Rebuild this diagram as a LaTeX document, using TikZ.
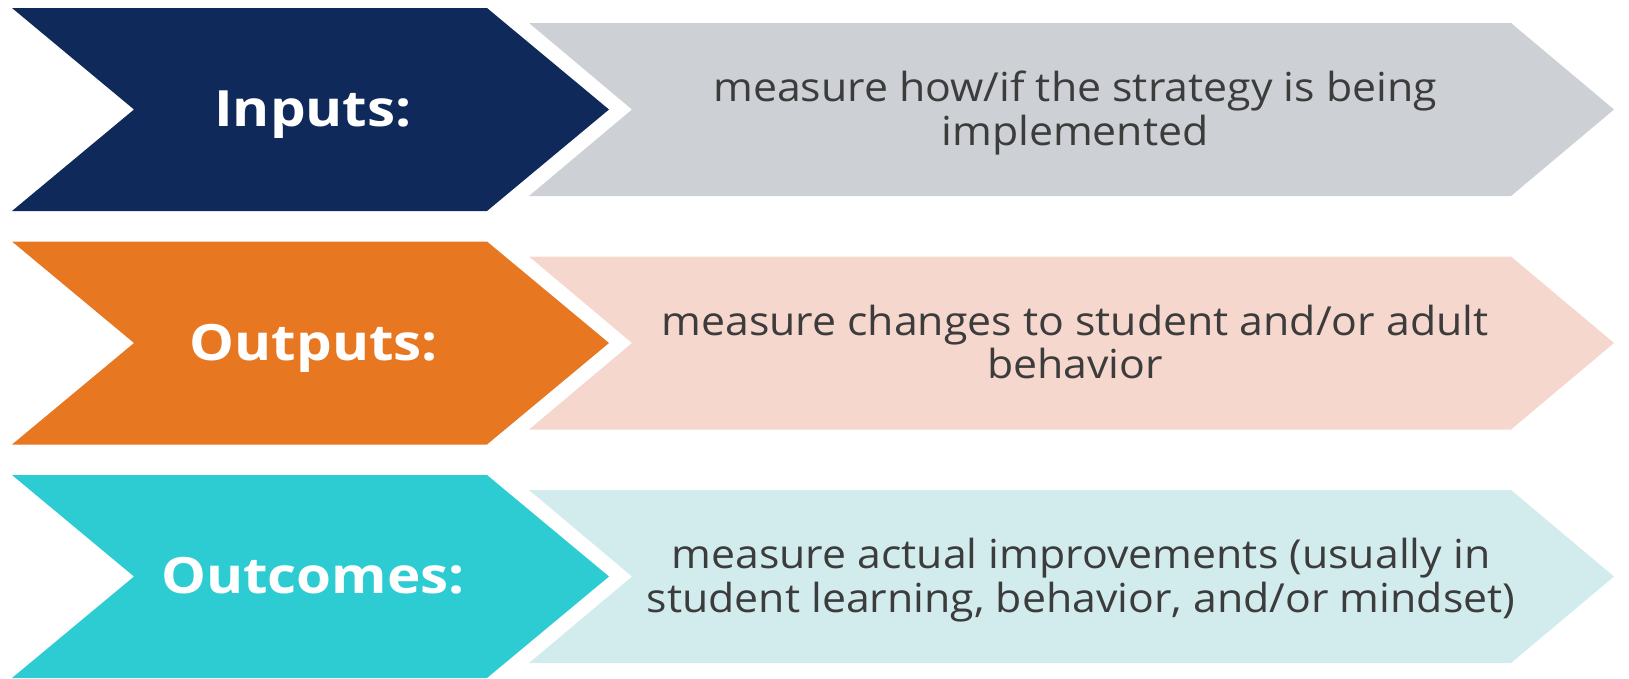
\documentclass[tikz,border=0pt]{standalone}
\usepackage{fontspec}
\setmainfont{Open Sans}[FakeStretch=1.07]
\newfontfamily\labelfont{Open Sans}[UprightFont={* Bold}, FakeStretch=1.13]
\definecolor{navy}{HTML}{0F2A5A}
\definecolor{orng}{HTML}{E87722}
\definecolor{teal}{HTML}{2DCBD2}
\definecolor{lgray}{HTML}{CDD0D4}
\definecolor{lpink}{HTML}{F6D7CD}
\definecolor{lteal}{HTML}{D2ECEE}
\definecolor{txt}{HTML}{3C3C3C}
\tikzset{
  labeltext/.style={text=white, font=\labelfont\fontsize{50}{60}\selectfont, inner sep=0pt, anchor=base},
  desctext/.style={text=txt, font=\fontsize{40}{42}\selectfont, align=center, inner sep=0pt},
}
\newcommand{\darkchev}[2]{% top y, color
  \fill[#2] (12,#1) -- (487,#1) -- (609,#1+101.5) -- (487,#1+203) -- (12,#1+203) -- (134,#1+101.5) -- cycle;}
\newcommand{\lightchev}[2]{%
  \fill[#2] (529,#1+15) -- (1511,#1+15) -- (1614,#1+101.5) -- (1511,#1+188) -- (529,#1+188) -- (632,#1+101.5) -- cycle;}
\begin{document}
\begin{tikzpicture}[x=1pt,y=-1pt]
\useasboundingbox (0,0) rectangle (1629,678);
\darkchev{8}{navy}
\lightchev{8}{lgray}
\darkchev{241.5}{orng}
\lightchev{241.5}{lpink}
\darkchev{475}{teal}
\lightchev{475}{lteal}
\node[labeltext] (inputs) at (313,126.5) {Inputs:};
\node[labeltext] (outputs) at (314,360) {Outputs:};
\node[labeltext] (outcomes) at (313,593.5) {Outcomes:};
\node[desctext] (d1) at (1075,114.6) {\strut measure how/if the strategy is being\\\strut implemented};
\node[desctext] (d2) at (1075,348.1) {\strut measure changes to student and/or adult\\\strut behavior};
\node[desctext] (d3) at (1081,581.6) {\strut measure actual improvements (usually in\\\strut student learning, behavior, and/or mindset)};
\end{tikzpicture}
\end{document}
